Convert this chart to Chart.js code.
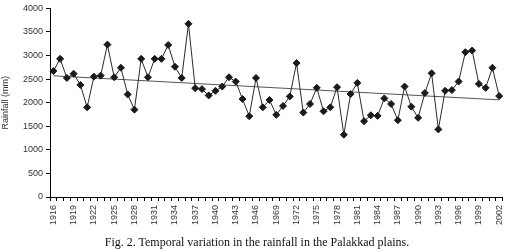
<!DOCTYPE html>
<html>
<head>
<meta charset="utf-8">
<script src="https://cdn.jsdelivr.net/npm/chart.js@4/dist/chart.umd.min.js"></script>
<style>
  html, body { margin: 0; padding: 0; background: #fff; }
  #wrap { position: relative; width: 514px; height: 252px; }
  #caption {
    position: absolute; left: 0; width: 514px; top: 235px;
    text-align: center; font-family: "Liberation Serif", "Times New Roman", serif;
    font-size: 12px; color: #111; white-space: nowrap;
  }
</style>
</head>
<body>
<div id="wrap">
  <canvas id="c" width="514" height="252"></canvas>
  <div id="caption">Fig. 2. Temporal variation in the rainfall in the Palakkad plains.</div>
</div>
<script>
// Years (gap between 1946 and 1967 in the record)
const years = [
  1916,1917,1918,1919,1920,1921,1922,1923,1924,1925,1926,1927,1928,1929,1930,1931,
  1932,1933,1934,1935,1936,1937,1938,1939,1940,1941,1942,1943,1944,1945,1946,
  1967,1968,1969,1970,1971,1972,1973,1974,1975,1976,1977,1978,1979,1980,1981,1982,
  1983,1984,1985,1986,1987,1988,1989,1990,1991,1992,1993,1994,1995,1996,1997,1998,
  1999,2000,2001,2002
];
// Annual rainfall (mm)
const rainfall = [
  2670,2930,2525,2615,2378,1902,2553,2574,3232,2540,2741,2176,1853,2930,2540,2930,
  2930,3224,2762,2525,3673,2309,2288,2154,2252,2343,2540,2448,2078,1713,2525,
  1902,2057,1742,1931,2133,2840,1790,1973,2315,1818,1902,2330,1322,2183,2420,1608,
  1734,1721,2091,1973,1629,2343,1916,1679,2207,2624,1434,2252,2267,2448,3071,3106,
  2399,2315,2741,2141
];
// Linear trend line end values (mm)
const trendStart = 2570;
const trendEnd = 2060;
const yTicks = [0,500,1000,1500,2000,2500,3000,3500,4000];

const labels = years.map(String);
const trend = years.map((y, i) => i === 0 ? trendStart : (i === years.length - 1 ? trendEnd : null));

const tickFont = { family: '"Liberation Sans", Arial, sans-serif', size: 9 };

new Chart(document.getElementById('c'), {
  type: 'line',
  data: {
    labels: labels,
    datasets: [
      {
        label: 'Rainfall',
        data: rainfall,
        borderColor: '#2a2a2a',
        borderWidth: 1,
        backgroundColor: '#1a1a1a',
        pointStyle: 'rectRot',
        pointRadius: 3.5,
        pointBorderWidth: 1,
        pointBorderColor: '#1a1a1a',
        pointBackgroundColor: '#1a1a1a',
        tension: 0,
        order: 1
      },
      {
        label: 'Trend',
        data: trend,
        spanGaps: true,
        borderColor: '#555',
        borderWidth: 1,
        pointRadius: 0,
        tension: 0,
        order: 2
      }
    ]
  },
  options: {
    responsive: false,
    animation: false,
    devicePixelRatio: 1,
    layout: { padding: { top: 7, right: 4, left: 0, bottom: 0 } },
    plugins: { legend: { display: false }, tooltip: { enabled: false }, title: { display: false } },
    scales: {
      x: {
        type: 'category',
        offset: true,
        grid: { display: true, drawOnChartArea: false, drawTicks: true, tickLength: 4, offset: true, color: '#000', lineWidth: 1 },
        border: { display: true, color: '#000', width: 1 },
        ticks: {
          autoSkip: false,
          maxRotation: 90, minRotation: 90,
          padding: 4,
          color: '#333',
          font: tickFont,
          callback: function(v, i) { return i % 3 === 0 ? labels[i] : ''; }
        },
        afterFit: function(s) { s.height = 55; }
      },
      y: {
        min: 0, max: 4000,
        afterBuildTicks: function(s) { s.ticks = yTicks.map(v => ({ value: v })); },
        grid: { display: true, drawOnChartArea: false, drawTicks: true, tickLength: 4, color: '#000' },
        border: { display: true, color: '#000', width: 1 },
        ticks: { color: '#333', font: tickFont, padding: 3, callback: function(v) { return String(v); } },
        title: { display: true, text: 'Rainfall (mm)', color: '#333', font: tickFont, padding: 0 },
        afterFit: function(s) { s.width = 50; }
      }
    }
  }
});
</script>
</body>
</html>
